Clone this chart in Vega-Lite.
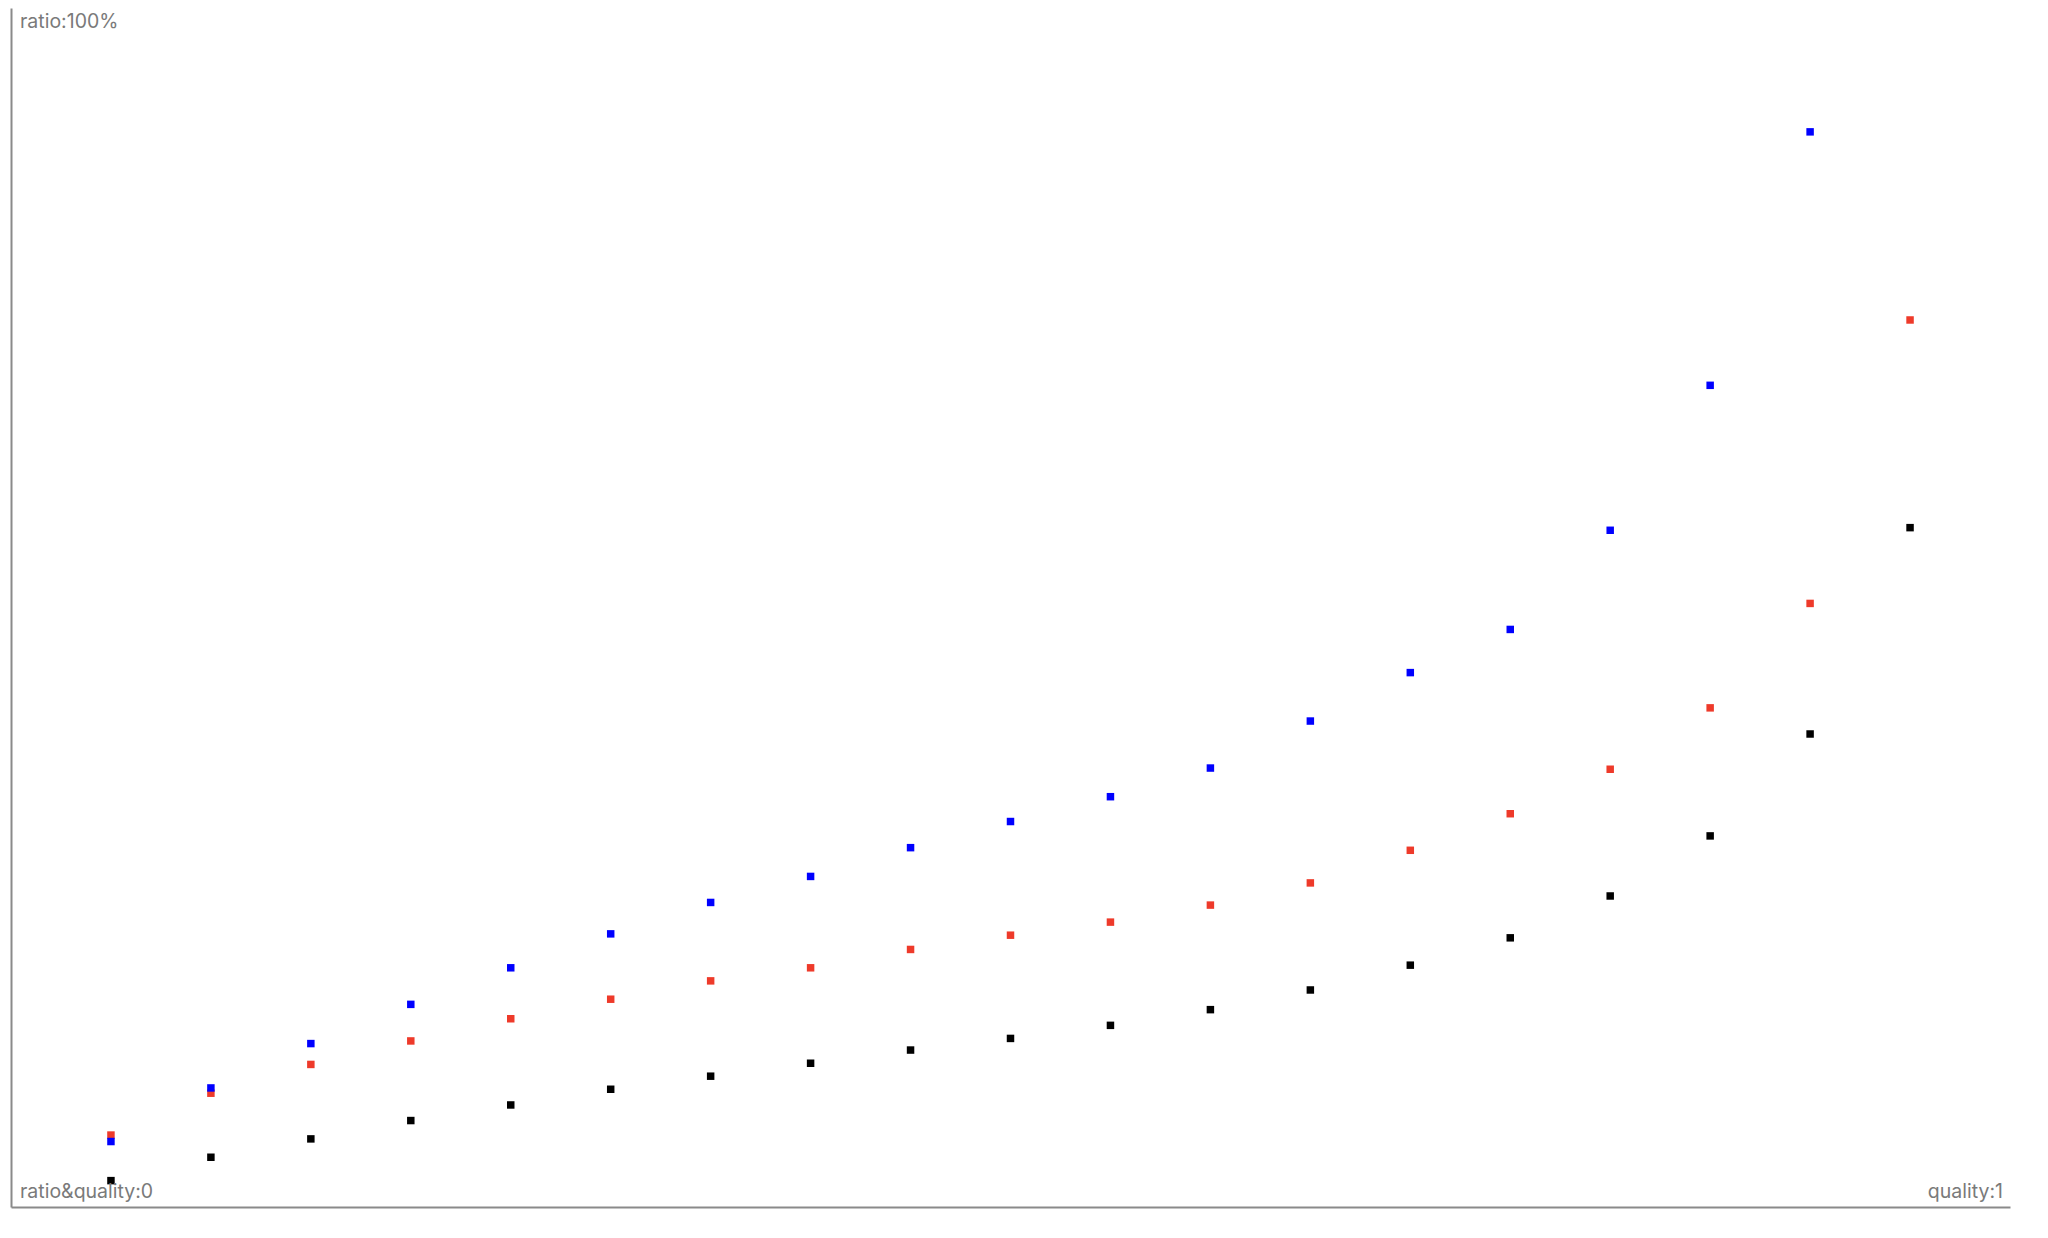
{
  "$schema": "https://vega.github.io/schema/vega-lite/v6.json",
  "width": 1999,
  "height": 1199,
  "autosize": "none",
  "padding": {"left": 11, "top": 8, "right": 38, "bottom": 31},
  "background": "white",
  "config": {"view": {"stroke": null}},
  "datasets": {
    "pts": [
      {"series": "red", "quality": 0.05, "ratio": 0.060},
      {"series": "red", "quality": 0.10, "ratio": 0.0949},
      {"series": "red", "quality": 0.15, "ratio": 0.1189},
      {"series": "red", "quality": 0.20, "ratio": 0.1385},
      {"series": "red", "quality": 0.25, "ratio": 0.157},
      {"series": "red", "quality": 0.30, "ratio": 0.1733},
      {"series": "red", "quality": 0.35, "ratio": 0.1886},
      {"series": "red", "quality": 0.40, "ratio": 0.1995},
      {"series": "red", "quality": 0.45, "ratio": 0.2148},
      {"series": "red", "quality": 0.50, "ratio": 0.2267},
      {"series": "red", "quality": 0.55, "ratio": 0.2376},
      {"series": "red", "quality": 0.60, "ratio": 0.2518},
      {"series": "red", "quality": 0.65, "ratio": 0.2703},
      {"series": "red", "quality": 0.70, "ratio": 0.2975},
      {"series": "red", "quality": 0.75, "ratio": 0.328},
      {"series": "red", "quality": 0.80, "ratio": 0.3651},
      {"series": "red", "quality": 0.85, "ratio": 0.4163},
      {"series": "red", "quality": 0.90, "ratio": 0.5034},
      {"series": "red", "quality": 0.95, "ratio": 0.7398},
      {"series": "blue", "quality": 0.05, "ratio": 0.0546},
      {"series": "blue", "quality": 0.10, "ratio": 0.0993},
      {"series": "blue", "quality": 0.15, "ratio": 0.1363},
      {"series": "blue", "quality": 0.20, "ratio": 0.169},
      {"series": "blue", "quality": 0.25, "ratio": 0.1995},
      {"series": "blue", "quality": 0.30, "ratio": 0.2278},
      {"series": "blue", "quality": 0.35, "ratio": 0.254},
      {"series": "blue", "quality": 0.40, "ratio": 0.2757},
      {"series": "blue", "quality": 0.45, "ratio": 0.2997},
      {"series": "blue", "quality": 0.50, "ratio": 0.3215},
      {"series": "blue", "quality": 0.55, "ratio": 0.3422},
      {"series": "blue", "quality": 0.60, "ratio": 0.3661},
      {"series": "blue", "quality": 0.65, "ratio": 0.4053},
      {"series": "blue", "quality": 0.70, "ratio": 0.4457},
      {"series": "blue", "quality": 0.75, "ratio": 0.4817},
      {"series": "blue", "quality": 0.80, "ratio": 0.5644},
      {"series": "blue", "quality": 0.85, "ratio": 0.6853},
      {"series": "blue", "quality": 0.90, "ratio": 0.8967},
      {"series": "black", "quality": 0.05, "ratio": 0.022},
      {"series": "black", "quality": 0.10, "ratio": 0.0415},
      {"series": "black", "quality": 0.15, "ratio": 0.0568},
      {"series": "black", "quality": 0.20, "ratio": 0.0721},
      {"series": "black", "quality": 0.25, "ratio": 0.0851},
      {"series": "black", "quality": 0.30, "ratio": 0.0982},
      {"series": "black", "quality": 0.35, "ratio": 0.1091},
      {"series": "black", "quality": 0.40, "ratio": 0.1199},
      {"series": "black", "quality": 0.45, "ratio": 0.1309},
      {"series": "black", "quality": 0.50, "ratio": 0.1406},
      {"series": "black", "quality": 0.55, "ratio": 0.1515},
      {"series": "black", "quality": 0.60, "ratio": 0.1646},
      {"series": "black", "quality": 0.65, "ratio": 0.181},
      {"series": "black", "quality": 0.70, "ratio": 0.2017},
      {"series": "black", "quality": 0.75, "ratio": 0.2245},
      {"series": "black", "quality": 0.80, "ratio": 0.2594},
      {"series": "black", "quality": 0.85, "ratio": 0.3095},
      {"series": "black", "quality": 0.90, "ratio": 0.3945},
      {"series": "black", "quality": 0.95, "ratio": 0.5666}
    ],
    "labels": [
      {"text": "ratio:100%", "qx": 0, "ry": 1, "pos": "top"},
      {"text": "ratio&quality:0", "qx": 0, "ry": 0, "pos": "bl"},
      {"text": "quality:1", "qx": 1, "ry": 0, "pos": "br"}
    ]
  },
  "layer": [
    {
      "data": {"name": "pts"},
      "mark": {"type": "point", "shape": "square", "filled": true, "size": 56, "opacity": 1},
      "encoding": {
        "x": {
          "field": "quality", "type": "quantitative",
          "scale": {"domain": [0, 1], "nice": false, "zero": false},
          "axis": {"domain": true, "domainColor": "#8a8a8a", "domainWidth": 2, "ticks": false, "labels": false, "grid": false, "title": null}
        },
        "y": {
          "field": "ratio", "type": "quantitative",
          "scale": {"domain": [0, 1], "nice": false, "zero": false},
          "axis": {"domain": true, "domainColor": "#8a8a8a", "domainWidth": 2, "ticks": false, "labels": false, "grid": false, "title": null}
        },
        "color": {
          "field": "series", "type": "nominal",
          "scale": {"domain": ["red", "blue", "black"], "range": ["#ee3a2a", "#0000ff", "#000000"]},
          "legend": null
        }
      }
    },
    {
      "data": {"name": "labels"},
      "transform": [{"filter": "datum.pos == 'top'"}],
      "mark": {"type": "text", "align": "left", "baseline": "alphabetic", "dx": 9, "dy": 20, "font": "Inter", "fontSize": 19.5, "color": "#7a7a7a"},
      "encoding": {
        "x": {"field": "qx", "type": "quantitative"},
        "y": {"field": "ry", "type": "quantitative"},
        "text": {"field": "text"}
      }
    },
    {
      "data": {"name": "labels"},
      "transform": [{"filter": "datum.pos == 'bl'"}],
      "mark": {"type": "text", "align": "left", "baseline": "alphabetic", "dx": 9, "dy": -9, "font": "Inter", "fontSize": 19.5, "color": "#7a7a7a"},
      "encoding": {
        "x": {"field": "qx", "type": "quantitative"},
        "y": {"field": "ry", "type": "quantitative"},
        "text": {"field": "text"}
      }
    },
    {
      "data": {"name": "labels"},
      "transform": [{"filter": "datum.pos == 'br'"}],
      "mark": {"type": "text", "align": "right", "baseline": "alphabetic", "dx": -7, "dy": -9, "font": "Inter", "fontSize": 19.5, "color": "#7a7a7a"},
      "encoding": {
        "x": {"field": "qx", "type": "quantitative"},
        "y": {"field": "ry", "type": "quantitative"},
        "text": {"field": "text"}
      }
    }
  ]
}
